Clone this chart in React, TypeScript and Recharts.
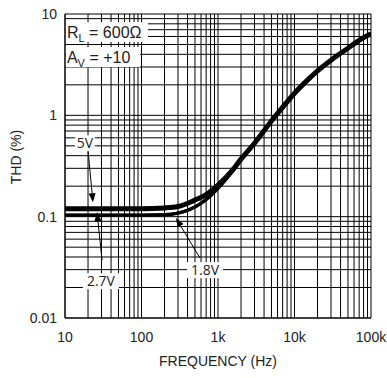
import React from "react";
import { LineChart, Line, XAxis, YAxis, CartesianGrid, ReferenceLine, ReferenceDot, Label } from "recharts";

// frequency points (Hz) and THD (%)
const FREQ = [10, 20, 50, 100, 200, 300, 500, 700, 1000, 1500, 2000, 3000, 5000, 7000, 10000, 15000, 20000, 30000, 50000, 70000, 100000];
const THD_5V = [0.12, 0.12, 0.12, 0.12, 0.122, 0.126, 0.146, 0.165, 0.205, 0.28, 0.37, 0.53, 0.88, 1.2, 1.65, 2.25, 2.75, 3.5, 4.6, 5.5, 6.4];
const THD_2V7 = [0.104, 0.104, 0.104, 0.104, 0.105, 0.109, 0.125, 0.148, 0.19, 0.272, 0.365, 0.53, 0.88, 1.2, 1.65, 2.25, 2.75, 3.5, 4.6, 5.5, 6.4];
const THD_1V8 = [0.103, 0.103, 0.103, 0.103, 0.104, 0.108, 0.124, 0.147, 0.19, 0.272, 0.365, 0.53, 0.88, 1.2, 1.65, 2.25, 2.75, 3.5, 4.6, 5.5, 6.4];

const X_TICKS = [10, 20, 30, 40, 50, 60, 70, 80, 90, 100, 200, 300, 400, 500, 600, 700, 800, 900, 1000, 2000, 3000, 4000, 5000, 6000, 7000, 8000, 9000, 10000, 20000, 30000, 40000, 50000, 60000, 70000, 80000, 90000, 100000];
const X_LABELS: Record<number, string> = { 10: "10", 100: "100", 1000: "1k", 10000: "10k", 100000: "100k" };
const Y_TICKS = [0.01, 0.02, 0.03, 0.04, 0.05, 0.06, 0.07, 0.08, 0.09, 0.1, 0.2, 0.3, 0.4, 0.5, 0.6, 0.7, 0.8, 0.9, 1, 2, 3, 4, 5, 6, 7, 8, 9, 10];
const Y_LABELS: Record<number, string> = { 0.01: "0.01", 0.1: "0.1", 1: "1", 10: "10" };

// annotation anchors in data coordinates
const NOTES = [
  { id: "5V", text: "5V", x: 18.2, y: 0.53, from: [20, 0.45], to: [23.2, 0.139] },
  { id: "2.7V", text: "2.7V", x: 29.5, y: 0.0231, from: [30.5, 0.0373], to: [26.2, 0.111] },
  { id: "1.8V", text: "1.8V", x: 676, y: 0.0297, from: [582, 0.039], to: [282, 0.0968] },
];

const data = FREQ.map((f, i) => ({ f, v5: THD_5V[i], v27: THD_2V7[i], v18: THD_1V8[i] }));

const AXIS_FONT = "'Liberation Sans', Arial, sans-serif";
const NOTE_FONT = "'Open Sans', 'DejaVu Sans', sans-serif";

const Arrow = (props: any) => {
  const { x1, y1, x2, y2 } = props;
  const a = Math.atan2(y2 - y1, x2 - x1);
  const len = 9;
  const w = 3.5;
  const bx = x2 - len * Math.cos(a);
  const by = y2 - len * Math.sin(a);
  const px = -Math.sin(a) * w;
  const py = Math.cos(a) * w;
  return (
    <g>
      <line x1={x1} y1={y1} x2={bx} y2={by} stroke="#000" strokeWidth={1} />
      <polygon points={`${x2},${y2} ${bx + px},${by + py} ${bx - px},${by - py}`} fill="#000" />
    </g>
  );
};

const NoteText = (text: string) => (props: any) => {
  const { cx, cy } = props;
  const w = text.length * 8 + 4;
  return (
    <g>
      <rect x={cx - w / 2} y={cy - 8} width={w} height={16} fill="#fff" />
      <text x={cx} y={cy + 5} textAnchor="middle" fontFamily={NOTE_FONT} fontSize={14} fill="#222">
        {text}
      </text>
    </g>
  );
};

const Condition = (main: string, sub: string, rest: string, boxW: number) => (props: any) => {
  const { cx, cy } = props;
  return (
    <g>
      <rect x={cx - 1} y={cy - 10} width={boxW} height={20} fill="#fff" />
      <text x={cx} y={cy + 6} fontFamily={AXIS_FONT} fontSize={16} fill="#222">
        {main}
        <tspan fontSize={11} dy={4}>{sub}</tspan>
        <tspan dy={-4}>{rest}</tspan>
      </text>
    </g>
  );
};

export default function App() {
  return (
    <div style={{ position: "absolute", left: 0, top: 0, width: 387, height: 378, background: "#fff" }}>
      <LineChart width={387} height={378} data={data} margin={{ top: 14, right: 16, left: 0, bottom: 0 }}>
        <CartesianGrid stroke="#000" strokeWidth={1} horizontalValues={Y_TICKS} verticalValues={X_TICKS} />
        <XAxis
          dataKey="f"
          type="number"
          scale="log"
          domain={[10, 100000]}
          ticks={X_TICKS}
          interval={0}
          allowDataOverflow
          tickFormatter={(v: number) => X_LABELS[v] ?? ""}
          tickLine={false}
          axisLine={{ stroke: "#000" }}
          tick={{ fontSize: 14, fill: "#222", fontFamily: AXIS_FONT }}
          tickMargin={8}
          height={60}
        >
          <Label value="FREQUENCY (Hz)" position="insideBottom" offset={12} style={{ fontSize: 14, fill: "#222", fontFamily: AXIS_FONT }} />
        </XAxis>
        <YAxis
          type="number"
          scale="log"
          domain={[0.01, 10]}
          ticks={Y_TICKS}
          interval={0}
          allowDataOverflow
          tickFormatter={(v: number) => Y_LABELS[v] ?? ""}
          tickLine={false}
          axisLine={{ stroke: "#000" }}
          tick={{ fontSize: 14, fill: "#222", fontFamily: AXIS_FONT }}
          width={65}
        >
          <Label
            content={() => (
              <text x={21} y={157} transform="rotate(-90 21 157)" textAnchor="middle" fontFamily={AXIS_FONT} fontSize={14} fill="#222">
                THD (%)
              </text>
            )}
          />
        </YAxis>
        <Line dataKey="v27" type="monotone" stroke="#000" strokeWidth={3} dot={false} isAnimationActive={false} />
        <Line dataKey="v18" type="monotone" stroke="#000" strokeWidth={3} dot={false} isAnimationActive={false} />
        <Line dataKey="v5" type="monotone" stroke="#000" strokeWidth={5} dot={false} isAnimationActive={false} />
        {NOTES.map((n) => (
          <ReferenceLine
            key={"a" + n.id}
            segment={[{ x: n.from[0], y: n.from[1] }, { x: n.to[0], y: n.to[1] }]}
            shape={Arrow}
            ifOverflow="visible"
          />
        ))}
        {NOTES.map((n) => (
          <ReferenceDot key={"t" + n.id} x={n.x} y={n.y} r={1} shape={NoteText(n.text)} ifOverflow="visible" />
        ))}
        <ReferenceDot x={10.6} y={6.64} r={1} shape={Condition("R", "L", " = 600Ω", 82)} ifOverflow="visible" />
        <ReferenceDot x={10.6} y={3.76} r={1} shape={Condition("A", "V", " = +10", 74)} ifOverflow="visible" />
      </LineChart>
    </div>
  );
}
